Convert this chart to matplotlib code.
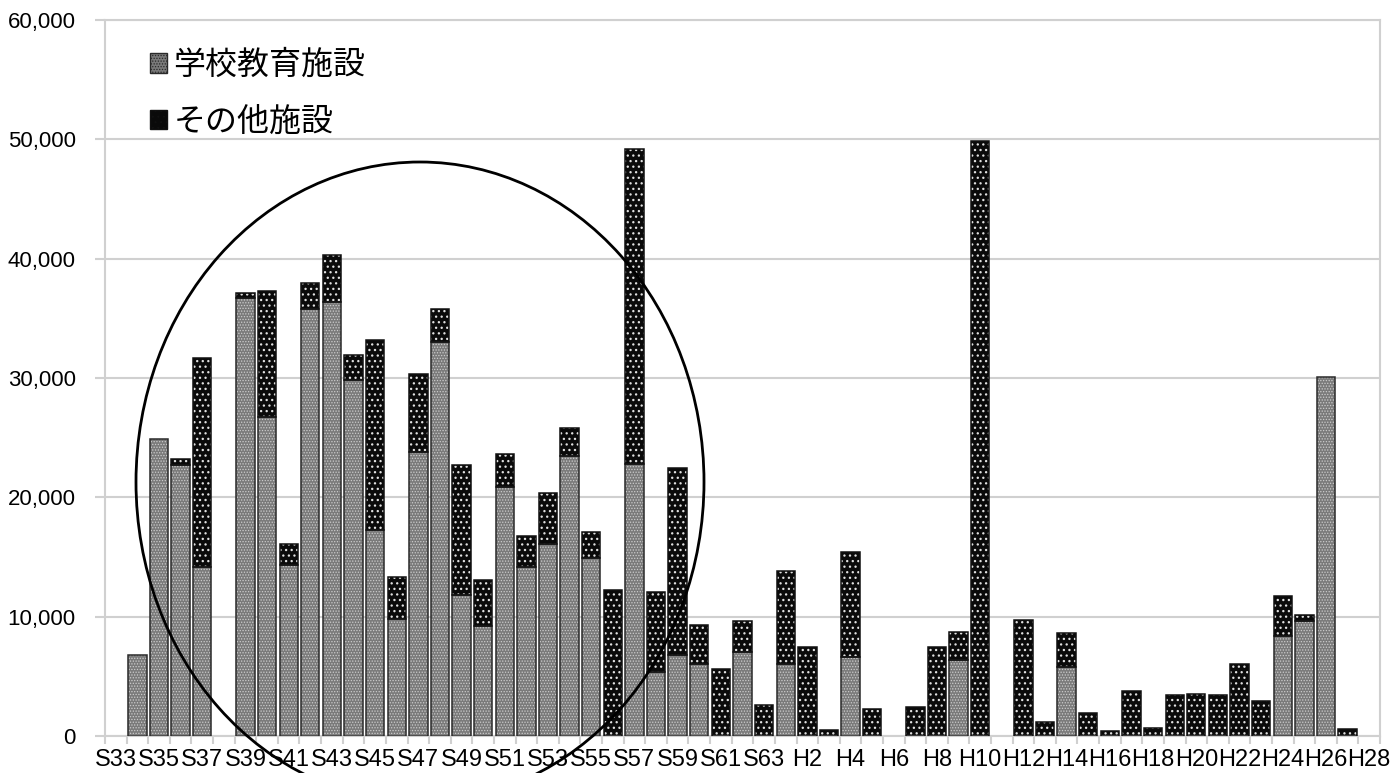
import numpy as np
import matplotlib
matplotlib.use("Agg")
import matplotlib.pyplot as plt
from matplotlib.patches import Ellipse, Patch

# 年度 (S33 .. S63, H1 .. H28)
years = [f"S{n}" for n in range(33, 64)] + [f"H{n}" for n in range(1, 29)]

# 学校教育施設
school = [0, 6800, 24900, 22700, 14200, 0, 36700, 26700, 14300, 35800,
          36400, 29800, 17300, 9800, 23800, 33000, 11800, 9200, 20900, 14200,
          16100, 23500, 14900, 0, 22800, 5400, 6800, 6000, 0, 7000,
          0, 6000, 0, 0, 6600, 0, 0, 0, 0, 6400,
          0, 0, 0, 0, 5800, 0, 0, 0, 0, 0,
          0, 0, 0, 0, 8400, 9600, 30100, 0, 0]

# その他施設
other = [0, 0, 0, 500, 17500, 0, 400, 10600, 1800, 2200,
         3900, 2100, 15900, 3500, 6500, 2800, 10900, 3900, 2700, 2600,
         4300, 2300, 2200, 12200, 26400, 6700, 15700, 3300, 5600, 2600,
         2600, 7800, 7500, 500, 8800, 2300, 0, 2400, 7500, 2300,
         49900, 0, 9700, 1200, 2800, 1900, 400, 3800, 700, 3400,
         3500, 3400, 6000, 2900, 3300, 500, 0, 600, 0]

tick_labels = years[::2]

plt.rcParams['font.family'] = ['Liberation Sans', 'DejaVu Sans']

fig = plt.figure(figsize=(13.91, 7.73), dpi=100)
ax = fig.add_axes([105 / 1391, 1 - 736 / 773, 1275 / 1391, 716 / 773])

x = np.arange(len(years))
school = np.array(school)
other = np.array(other)
w = 0.85

# 空の年度は描かない
ms = school > 0
mo = other > 0

# gray bars: fine light checker on mid gray
plt.rcParams['hatch.linewidth'] = 0.6
ax.bar(x[ms], school[ms], w, color='#7a7a7a', edgecolor='#cccccc',
       hatch='......', linewidth=0, zorder=2)
ax.bar(x[ms], school[ms], w, fill=False, edgecolor='#2a2a2a', linewidth=1.1,
       zorder=3)

# black bars: white dots
plt.rcParams['hatch.linewidth'] = 0.9
ax.bar(x[mo], other[mo], w, bottom=school[mo], color='#0a0a0a',
       edgecolor='#e0e0e0', hatch='...', linewidth=0, zorder=2)
ax.bar(x[mo], other[mo], w, bottom=school[mo], fill=False,
       edgecolor='#111111', linewidth=1.1, zorder=3)

ax.set_xlim(-0.5, len(years) - 0.5)
ax.set_ylim(0, 60000)
ax.set_yticks(np.arange(0, 60001, 10000))
ax.set_yticklabels([f"{v:,}" for v in range(0, 60001, 10000)], fontsize=16)
ax.grid(axis='y', color='#d0d0d0', linewidth=1.5, zorder=0)

ax.set_xticks(np.arange(-0.5, len(years), 1))
ax.set_xticklabels([])
ax.set_xticks(x[::2], minor=True)
ax.set_xticklabels(tick_labels, minor=True, fontsize=17)
ax.tick_params(axis='x', which='major', length=6, width=1.5, color='#d0d0d0')
ax.tick_params(axis='x', which='minor', length=0, pad=9)
ax.tick_params(axis='y', length=7, width=1.5, color='#d0d0d0', pad=14)

for s in ax.spines.values():
    s.set_color('#d0d0d0')
    s.set_linewidth(1.5)

plt.rcParams['hatch.linewidth'] = 0.6
h1 = Patch(facecolor='#7a7a7a', edgecolor='#2a2a2a', hatch='......', linewidth=1)
h2 = Patch(facecolor='#0a0a0a', edgecolor='#111111', hatch='...', linewidth=1)
leg = ax.legend([h1, h2], ['学校教育施設', 'その他施設'], loc='upper left',
                bbox_to_anchor=(0.025, 0.977), frameon=False,
                prop={'family': ['Noto Sans CJK JP', 'DejaVu Sans'], 'size': 23},
                handlelength=0.55, handleheight=0.55, handletextpad=0.2,
                labelspacing=0.78, borderaxespad=0)

# 円
ell = Ellipse((420 / 1391, 1 - 482 / 773), 568 / 1391, 640 / 773,
              transform=fig.transFigure, fill=False, edgecolor='black',
              linewidth=2.0, clip_on=False, zorder=10)
fig.add_artist(ell)

fig.savefig('out.png', dpi=100)
